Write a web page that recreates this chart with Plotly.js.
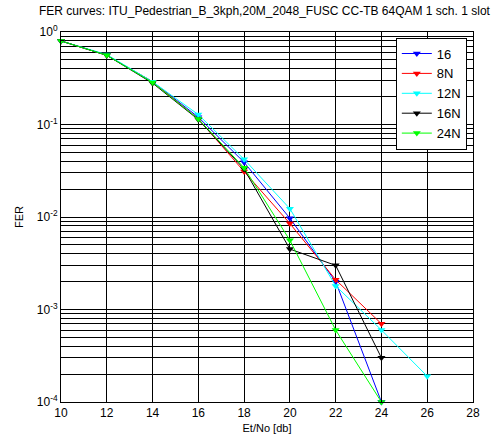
<!DOCTYPE html>
<html><head><meta charset="utf-8">
<script src="https://cdn.plot.ly/plotly-3.0.1.min.js"></script>
<style>html,body{margin:0;padding:0;background:#fff}#c{width:499px;height:439px}</style>
</head><body><div id="c"></div>
<script>
const snr = [10, 12, 14, 16, 18, 20, 22, 24, 26];
const fer16  = [0.8, 0.56, 0.29, 0.12, 0.039, 0.0097, 0.0020, 0.0001];
const fer8N  = [0.8, 0.56, 0.29, 0.115, 0.031, 0.0085, 0.0021, 0.0007];
const fer12N = [0.8, 0.57, 0.29, 0.128, 0.042, 0.0123, 0.0018, 0.0006, 0.00019];
const fer16N = [0.8, 0.56, 0.28, 0.113, 0.033, 0.0045, 0.0030, 0.0003];
const fer24N = [0.8, 0.56, 0.285, 0.115, 0.034, 0.0056, 0.0006, 0.0001];
const names = ['16', '8N', '12N', '16N', '24N'];
const colors = ['#0000ff', '#ff0000', '#00ffff', '#000000', '#00ff00'];
const series = [fer16, fer8N, fer12N, fer16N, fer24N];
const xTicks = [10, 12, 14, 16, 18, 20, 22, 24, 26, 28];
const yDecades = [1e-4, 1e-3, 1e-2, 1e-1, 1];
const yDecadeLabels = ['10<sup>-4</sup>', '10<sup>-3</sup>', '10<sup>-2</sup>', '10<sup>-1</sup>', '10<sup>0</sup>'];

const yMinorVals = [];
for (let e = -4; e < 0; e++) {
  for (let m = 2; m <= 9; m++) yMinorVals.push(m * Math.pow(10, e));
}

const traces = series.map((s, i) => ({
  x: snr.slice(0, s.length), y: s, name: names[i], type: 'scatter', mode: 'lines+markers',
  line: {color: colors[i], width: 1},
  marker: {symbol: 'triangle-down', size: 7, color: colors[i]},
  cliponaxis: false
}));

const font = {family: 'Liberation Sans, Arial, sans-serif', size: 12, color: '#000'};
const layout = {
  width: 499, height: 439,
  margin: {l: 61, r: 26, t: 32, b: 37},
  paper_bgcolor: '#fff', plot_bgcolor: '#fff',
  font: font,
  showlegend: true,
  title: {text: 'FER curves: ITU_Pedestrian_B_3kph,20M_2048_FUSC CC-TB 64QAM 1 sch. 1 slot',
          font: {family: font.family, size: 12, color: '#000'}, x: 0.53, xanchor: 'center', y: 0.975, yanchor: 'middle'},
  xaxis: {
    range: [10, 28], tickvals: xTicks, ticktext: xTicks.map(String),
    showgrid: true, gridcolor: '#000', gridwidth: 1,
    showline: true, linecolor: '#000', linewidth: 1, mirror: 'ticks',
    ticks: 'inside', ticklen: 4, tickcolor: '#000', zeroline: false,
    title: {text: 'Et/No [db]', font: {size: 11}, standoff: 4}
  },
  yaxis: {
    type: 'log', range: [-4, 0], tickvals: yDecades, ticktext: yDecadeLabels,
    showgrid: true, gridcolor: '#000', gridwidth: 1,
    showline: true, linecolor: '#000', linewidth: 1, mirror: 'ticks',
    ticks: 'inside', ticklen: 4, tickcolor: '#000', zeroline: false,
    minor: {tickvals: yMinorVals, showgrid: true, gridcolor: '#000', gridwidth: 1,
            ticks: 'inside', ticklen: 3, tickcolor: '#000'},
    title: {text: 'FER', font: {size: 11}, standoff: 10}
  },
  legend: {
    x: 0.985, xanchor: 'right', y: 0.985, yanchor: 'top',
    bgcolor: '#fff', bordercolor: '#000', borderwidth: 1,
    font: {family: font.family, size: 13, color: '#000'},
    tracegroupgap: 0, itemwidth: 30
  }
};
Plotly.newPlot('c', traces, layout, {displayModeBar: false, staticPlot: true});
</script></body></html>
